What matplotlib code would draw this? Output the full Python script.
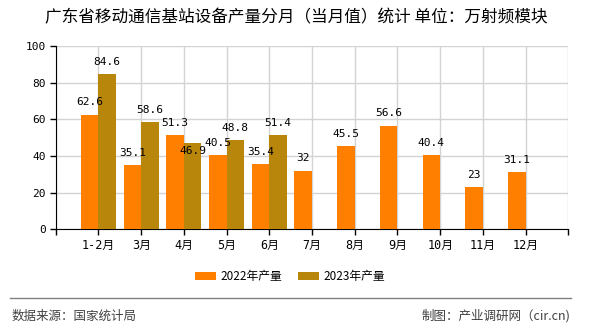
import matplotlib
matplotlib.use("Agg")
import matplotlib.pyplot as plt
from matplotlib.lines import Line2D
import numpy as np

plt.rcParams["font.family"] = ["Noto Sans CJK SC", "DejaVu Sans"]

months = ["1-2月", "3月", "4月", "5月", "6月", "7月", "8月", "9月", "10月", "11月", "12月"]
prod_2022 = [62.6, 35.1, 51.3, 40.5, 35.4, 32, 45.5, 56.6, 40.4, 23, 31.1]
prod_2023 = [84.6, 58.6, 46.9, 48.8, 51.4]
y_ticks = [0, 20, 40, 60, 80, 100]

c22 = "#FF8000"
c23 = "#B8860B"
num_font = ["DejaVu Sans Mono", "Noto Sans CJK SC"]

fig = plt.figure(figsize=(5.9, 3.3), dpi=100)
ax = fig.add_axes([55.7 / 590, 1 - 229.3 / 330, (568.3 - 55.7) / 590, (229.3 - 46) / 330])

pos = np.arange(1, len(months) + 1)
w = 0.41
b22 = ax.bar(pos[:len(prod_2022)] - w / 2, prod_2022, w, color=c22, zorder=3)
b23 = ax.bar(pos[:len(prod_2023)] + w / 2, prod_2023, w, color=c23, zorder=3)

def label_bars(bars, vals, nudge=None):
    nudge = nudge or {}
    for i, (b, v) in enumerate(zip(bars, vals)):
        off = nudge.get(i, 8.8)
        ax.annotate(f"{v:g}", (b.get_x() + b.get_width() / 2, v), xytext=(0, off),
                    textcoords="offset points", ha="center", va="center",
                    fontsize=8, family=num_font, color="black", zorder=5)

label_bars(b22, prod_2022)
# 46.9 sits lower in the original to dodge the 51.3 label
label_bars(b23, prod_2023, nudge={2: -5.8})

ax.set_xlim(0.03, 12)
ax.set_ylim(0, 100)
ax.set_yticks(y_ticks)
ax.set_yticklabels([str(t) for t in y_ticks], fontsize=8, family=num_font)
ax.set_xticks(np.arange(0, 13))
ax.set_xticklabels([""] + months + [""], fontsize=8.5, family=num_font)
ax.tick_params(axis="both", direction="out", length=4, width=1, color="black", pad=3)

ax.grid(True, color="#D3D3D3", linewidth=1, zorder=0)
ax.set_axisbelow(True)
for s in ["top", "right"]:
    ax.spines[s].set_visible(False)
ax.spines["left"].set_color("black")
ax.spines["bottom"].set_color("black")

fig.text(296 / 590, 1 - 18 / 330, "广东省移动通信基站设备产量分月（当月值）统计 单位：万射频模块",
         ha="center", va="center", fontsize=12, color="black")

fig.legend([b22, b23], ["2022年产量", "2023年产量"], loc="center",
           bbox_to_anchor=(290 / 590, 1 - 276.7 / 330), ncol=2, frameon=False,
           fontsize=8.5, handlelength=1.8, handleheight=0.7, handletextpad=0.4,
           columnspacing=1.3)

fig.add_artist(Line2D([10 / 590, 570.7 / 590], [1 - 298.3 / 330] * 2,
                      color="#808080", linewidth=1, transform=fig.transFigure))
fig.text(12 / 590, 1 - 316 / 330, "数据来源：国家统计局", ha="left", va="center",
         fontsize=9, color="#404040")
fig.text(570.7 / 590, 1 - 316 / 330, "制图：产业调研网（cir.cn)", ha="right", va="center",
         fontsize=9, color="#404040")

fig.savefig("out.png", dpi=100)
